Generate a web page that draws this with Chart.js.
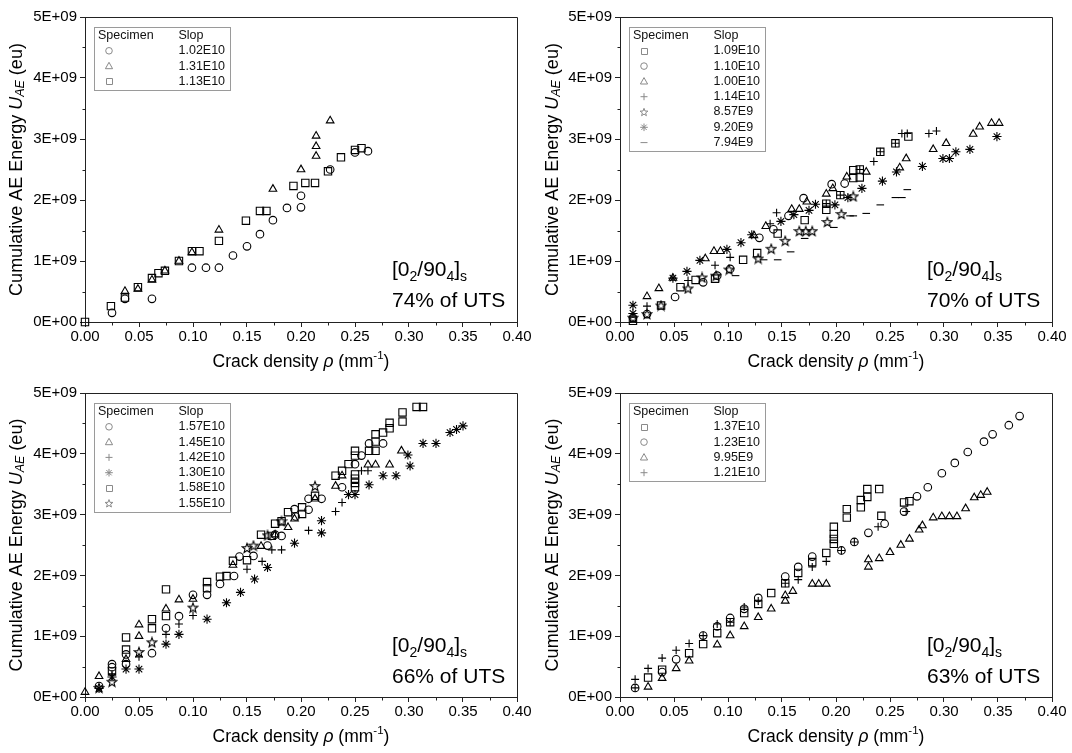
<!DOCTYPE html>
<html><head><meta charset="utf-8">
<script src="https://cdn.jsdelivr.net/npm/chart.js@4.4.1/dist/chart.umd.min.js"></script>
<style>
html,body{margin:0;padding:0;background:#fff;}
#wrap{position:relative;width:1072px;height:753px;overflow:hidden;}
.cell{position:absolute;}
canvas{display:block;}
</style></head><body>
<div id="wrap">
<div class="cell" style="left:0;top:0"><canvas id="c1" width="536" height="376"></canvas></div>
<div class="cell" style="left:536px;top:0"><canvas id="c2" width="536" height="376"></canvas></div>
<div class="cell" style="left:0;top:376px"><canvas id="c3" width="536" height="377"></canvas></div>
<div class="cell" style="left:536px;top:376px"><canvas id="c4" width="536" height="377"></canvas></div>
</div>
<script>
// ---------- DATA (x = crack density mm^-1, y = cumulative AE energy in units of 1E9 eu) ----------
const xTickValues = [0,0.05,0.10,0.15,0.20,0.25,0.30,0.35,0.40];
const yTickLabels = ['0E+00','1E+09','2E+09','3E+09','4E+09','5E+09'];

// Panel 1 : 74% of UTS
const p1Circle = [[0.025,0.15],[0.037,0.38],[0.062,0.38],[0.099,0.89],[0.112,0.89],[0.124,0.89],[0.137,1.09],[0.150,1.24],[0.162,1.44],[0.174,1.67],[0.187,1.87],[0.200,1.88],[0.200,2.07],[0.227,2.50],[0.250,2.78],[0.262,2.80]];
const p1Triangle = [[0.037,0.505],[0.049,0.54],[0.062,0.69],[0.074,0.84],[0.087,1.00],[0.099,1.14],[0.124,1.51],[0.174,2.18],[0.200,2.50],[0.214,2.72],[0.214,2.88],[0.214,3.05],[0.227,3.30]];
const p1Square = [[0.000,0.00],[0.024,0.26],[0.037,0.40],[0.049,0.57],[0.062,0.72],[0.068,0.80],[0.074,0.84],[0.087,1.00],[0.099,1.16],[0.106,1.16],[0.124,1.33],[0.149,1.66],[0.162,1.82],[0.168,1.82],[0.193,2.23],[0.204,2.28],[0.213,2.28],[0.225,2.47],[0.237,2.70],[0.250,2.82],[0.256,2.85]];
const p1Slopes = ['1.02E10','1.31E10','1.13E10'];

// Panel 2 : 70% of UTS
const p2Square = [[0.012,0.02],[0.038,0.27],[0.056,0.57],[0.070,0.69],[0.088,0.71],[0.114,1.02],[0.127,1.13],[0.146,1.45],[0.171,1.67],[0.191,1.94],[0.191,1.84],[0.204,2.08],[0.216,2.49],[0.216,2.36],[0.222,2.50],[0.222,2.37],[0.241,2.79],[0.255,2.93],[0.267,3.04]];
const p2Circle = [[0.012,0.07],[0.025,0.13],[0.051,0.41],[0.077,0.65],[0.090,0.76],[0.102,0.87],[0.129,1.38],[0.142,1.52],[0.156,1.74],[0.170,2.03],[0.196,2.26],[0.208,2.27]];
const p2Triangle = [[0.025,0.42],[0.036,0.55],[0.049,0.72],[0.079,1.04],[0.087,1.16],[0.093,1.16],[0.124,1.42],[0.135,1.57],[0.159,1.85],[0.166,1.85],[0.173,1.97],[0.191,2.10],[0.197,2.19],[0.210,2.38],[0.228,2.46],[0.259,2.53],[0.265,2.68],[0.290,2.83],[0.302,2.93],[0.327,3.08],[0.333,3.20],[0.344,3.26],[0.351,3.26]];
const p2Plus = [[0.025,0.26],[0.063,0.68],[0.088,0.93],[0.102,1.06],[0.139,1.61],[0.145,1.79],[0.191,1.94],[0.204,2.08],[0.222,2.50],[0.235,2.63],[0.241,2.79],[0.255,2.93],[0.261,3.09],[0.266,3.09],[0.286,3.09],[0.293,3.13]];
const p2Star = [[0.012,0.07],[0.025,0.13],[0.038,0.27],[0.063,0.55],[0.076,0.73],[0.089,0.76],[0.101,0.86],[0.128,1.04],[0.140,1.20],[0.153,1.33],[0.166,1.49],[0.172,1.49],[0.178,1.49],[0.192,1.64],[0.205,1.77],[0.216,2.06]];
const p2Asterisk = [[0.012,0.275],[0.012,0.14],[0.049,0.72],[0.062,0.83],[0.074,1.01],[0.099,1.19],[0.112,1.30],[0.122,1.43],[0.149,1.65],[0.161,1.76],[0.175,1.83],[0.181,1.93],[0.199,1.92],[0.211,2.04],[0.224,2.19],[0.243,2.31],[0.256,2.46],[0.280,2.55],[0.299,2.68],[0.305,2.68],[0.311,2.79],[0.324,2.83],[0.349,3.04]];
const p2Dash = [[0.107,0.76],[0.133,1.02],[0.146,1.02],[0.158,1.15],[0.171,1.37],[0.198,1.55],[0.213,1.74],[0.216,1.74],[0.228,1.78],[0.241,1.92],[0.255,2.04],[0.261,2.04],[0.266,2.17]];
const p2Slopes = ['1.09E10','1.10E10','1.00E10','1.14E10','8.57E9','9.20E9','7.94E9'];

// Panel 3 : 66% of UTS
const p3Circle = [[0.013,0.18],[0.025,0.54],[0.025,0.49],[0.038,0.70],[0.038,0.54],[0.062,0.72],[0.075,1.13],[0.087,1.33],[0.100,1.68],[0.113,1.68],[0.125,1.86],[0.138,1.99],[0.143,2.31],[0.156,2.32],[0.169,2.49],[0.176,2.67],[0.182,2.65],[0.194,3.09],[0.195,2.97],[0.207,3.08],[0.207,3.26],[0.219,3.26],[0.238,3.45],[0.250,3.83],[0.256,3.97],[0.263,4.17],[0.276,4.17]];
const p3Triangle = [[0.000,0.08],[0.013,0.34],[0.038,0.62],[0.050,1.19],[0.050,1.00],[0.075,1.45],[0.087,1.60],[0.100,1.61],[0.137,2.17],[0.163,2.48],[0.176,2.67],[0.188,2.79],[0.194,2.93],[0.213,3.26],[0.232,3.47],[0.238,3.64],[0.262,3.82],[0.269,3.82],[0.282,3.82],[0.293,4.05]];
const p3Plus = [[0.025,0.38],[0.050,0.66],[0.075,1.03],[0.087,1.20],[0.100,1.34],[0.150,2.10],[0.164,2.23],[0.173,2.42],[0.182,2.42],[0.207,2.74],[0.232,3.05],[0.238,3.20],[0.256,3.72],[0.262,3.72]];
const p3Asterisk = [[0.013,0.14],[0.025,0.33],[0.038,0.46],[0.050,0.46],[0.075,0.87],[0.087,1.03],[0.113,1.28],[0.131,1.55],[0.144,1.72],[0.157,1.94],[0.169,2.13],[0.194,2.53],[0.219,2.90],[0.219,2.70],[0.244,3.33],[0.250,3.33],[0.263,3.49],[0.276,3.64],[0.288,3.64],[0.299,3.98],[0.301,3.80],[0.313,4.17],[0.325,4.17],[0.338,4.35],[0.344,4.40],[0.350,4.46]];
const p3Square = [[0.025,0.42],[0.038,0.98],[0.038,0.78],[0.062,1.28],[0.062,1.13],[0.075,1.77],[0.075,1.33],[0.113,1.89],[0.113,1.79],[0.125,1.98],[0.131,1.99],[0.137,2.24],[0.150,2.25],[0.163,2.67],[0.173,2.65],[0.176,2.85],[0.182,2.89],[0.188,3.04],[0.201,3.12],[0.201,3.01],[0.213,3.31],[0.232,3.64],[0.238,3.72],[0.244,3.83],[0.250,3.45],[0.250,3.52],[0.250,3.59],[0.250,3.66],[0.250,3.97],[0.250,4.05],[0.263,4.05],[0.269,4.05],[0.269,4.20],[0.269,4.32],[0.276,4.35],[0.282,4.42],[0.282,4.51],[0.294,4.53],[0.294,4.68],[0.307,4.77],[0.313,4.77]];
const p3Star = [[0.013,0.15],[0.025,0.25],[0.050,0.74],[0.062,0.90],[0.100,1.47],[0.150,2.45],[0.156,2.49],[0.169,2.66],[0.182,2.89],[0.213,3.47]];
const p3Slopes = ['1.57E10','1.45E10','1.42E10','1.30E10','1.58E10','1.55E10'];

// Panel 4 : 63% of UTS
const p4Square = [[0.026,0.32],[0.039,0.45],[0.064,0.72],[0.077,0.87],[0.090,1.05],[0.102,1.23],[0.115,1.38],[0.128,1.53],[0.140,1.71],[0.153,1.87],[0.165,2.04],[0.178,2.22],[0.191,2.37],[0.198,2.52],[0.198,2.60],[0.198,2.68],[0.198,2.80],[0.210,2.95],[0.210,3.09],[0.223,3.12],[0.223,3.24],[0.229,3.29],[0.229,3.42],[0.240,3.42],[0.242,2.98],[0.263,3.20],[0.268,3.22]];
const p4Circle = [[0.014,0.15],[0.039,0.41],[0.052,0.62],[0.077,1.01],[0.090,1.16],[0.102,1.30],[0.115,1.45],[0.128,1.63],[0.153,1.98],[0.165,2.14],[0.178,2.31],[0.205,2.41],[0.217,2.55],[0.230,2.70],[0.245,2.85],[0.263,3.05],[0.275,3.30],[0.285,3.45],[0.298,3.68],[0.310,3.85],[0.322,4.03],[0.337,4.20],[0.345,4.32],[0.360,4.47],[0.370,4.62]];
const p4Triangle = [[0.026,0.165],[0.039,0.31],[0.052,0.47],[0.064,0.595],[0.090,0.86],[0.102,1.01],[0.115,1.16],[0.128,1.31],[0.140,1.45],[0.153,1.58],[0.153,1.67],[0.160,1.74],[0.178,1.86],[0.184,1.86],[0.191,1.86],[0.230,2.14],[0.230,2.26],[0.240,2.28],[0.250,2.38],[0.260,2.50],[0.268,2.60],[0.277,2.75],[0.280,2.82],[0.290,2.95],[0.298,2.97],[0.305,2.97],[0.312,2.97],[0.320,3.10],[0.328,3.28],[0.334,3.32],[0.340,3.37]];
const p4Plus = [[0.014,0.15],[0.014,0.29],[0.026,0.47],[0.039,0.64],[0.052,0.77],[0.064,0.88],[0.077,1.01],[0.090,1.20],[0.102,1.23],[0.115,1.48],[0.128,1.58],[0.153,1.87],[0.165,1.93],[0.178,2.14],[0.191,2.23],[0.205,2.41],[0.217,2.55],[0.239,2.80],[0.265,3.05]];
const p4Slopes = ['1.37E10','1.23E10','9.95E9','1.21E10'];

const utsLabels = ['74% of UTS','70% of UTS','66% of UTS','63% of UTS'];

// ---------- RENDERING ----------
const FONT = '"Liberation Sans", Arial, Helvetica, sans-serif';
Chart.defaults.font.family = FONT;
Chart.defaults.color = '#000';
const INK = '#000';

function makeStarCanvas(){
  const c = document.createElement('canvas'); c.width = 12; c.height = 12;
  const g = c.getContext('2d'); g.strokeStyle = INK; g.lineWidth = 1.1;
  g.beginPath();
  for (let i = 0; i < 10; i++) {
    const r = i % 2 ? 2.1 : 5.0;
    const a = -Math.PI / 2 + i * Math.PI / 5;
    const px = 6 + r * Math.cos(a), py = 6.4 + r * Math.sin(a);
    if (i) g.lineTo(px, py); else g.moveTo(px, py);
  }
  g.closePath(); g.stroke();
  return c;
}
const starImg = makeStarCanvas();

const STYLES = {
  circle:   {pointStyle:'circle',   r:3.8},
  triangle: {pointStyle:'triangle', r:4.4},
  square:   {pointStyle:'rect',     r:5.2},
  plus:     {pointStyle:'cross',    r:4.0},
  star:     {pointStyle:starImg,    r:4.5},
  asterisk: {pointStyle:'star',     r:4.6},
  dash:     {pointStyle:'line',     r:3.8}
};

function drawLegendSymbol(ctx, kind, x, y){
  ctx.save();
  ctx.strokeStyle = '#8a8a8a'; ctx.lineWidth = 1;
  ctx.beginPath();
  if (kind === 'circle') { ctx.arc(x, y, 3.3, 0, Math.PI*2); }
  else if (kind === 'triangle') { ctx.moveTo(x, y-3.8); ctx.lineTo(x+3.6, y+2.6); ctx.lineTo(x-3.6, y+2.6); ctx.closePath(); }
  else if (kind === 'square') { ctx.rect(Math.round(x)-3+0.5, Math.round(y)-3+0.5, 6, 6); }
  else if (kind === 'plus') { ctx.moveTo(x-3.5, y); ctx.lineTo(x+3.5, y); ctx.moveTo(x, y-3.5); ctx.lineTo(x, y+3.5); }
  else if (kind === 'dash') { ctx.moveTo(x-3.5, y); ctx.lineTo(x+3.5, y); }
  else if (kind === 'asterisk') {
    for (let i = 0; i < 4; i++) { const a = i*Math.PI/4; ctx.moveTo(x-3.8*Math.cos(a), y-3.8*Math.sin(a)); ctx.lineTo(x+3.8*Math.cos(a), y+3.8*Math.sin(a)); }
  }
  else if (kind === 'star') {
    for (let i = 0; i < 10; i++) { const r = i%2 ? 1.7 : 4.1; const a = -Math.PI/2 + i*Math.PI/5; const px = x + r*Math.cos(a), py = y + 0.4 + r*Math.sin(a); if (i) ctx.lineTo(px, py); else ctx.moveTo(px, py); }
    ctx.closePath();
  }
  ctx.stroke();
  ctx.restore();
}

function drawRich(ctx, parts, x, y, align){
  let total = 0;
  parts.forEach(p => { ctx.font = p.font; p.w = ctx.measureText(p.t).width; total += p.w; });
  let cx = align === 'center' ? x - total/2 : x;
  parts.forEach(p => { ctx.font = p.font; ctx.fillText(p.t, cx, y + (p.dy || 0)); cx += p.w; });
}

const decoPlugin = {
  id: 'deco',
  afterDraw(chart){
    const o = chart.options.plugins.deco;
    const ctx = chart.ctx, a = chart.chartArea;
    const xs = chart.scales.x, ys = chart.scales.y;
    const L = Math.round(a.left) + 0.5, R = Math.round(a.right) + 0.5;
    const T = Math.round(a.top) + 0.5, B = Math.round(a.bottom) + 0.5;
    ctx.save();
    ctx.strokeStyle = '#222'; ctx.lineWidth = 1;
    ctx.beginPath();
    ctx.moveTo(L, T); ctx.lineTo(R, T); ctx.lineTo(R, B);
    // minor ticks
    for (let v = 0.025; v < 0.4; v += 0.05) {
      const px = Math.round(xs.getPixelForValue(v)) + 0.5;
      ctx.moveTo(px, B); ctx.lineTo(px, B + 3);
    }
    for (let v = 0.5e9; v < 5e9; v += 1e9) {
      const py = Math.round(ys.getPixelForValue(v)) + 0.5;
      ctx.moveTo(L, py); ctx.lineTo(L - 3, py);
    }
    ctx.stroke();

    // axis titles
    ctx.fillStyle = '#000';
    ctx.textBaseline = 'middle';
    const fN = '17.5px ' + FONT, fI = 'italic 17.5px ' + FONT, fSup = '11.5px ' + FONT;
    drawRich(ctx, [
      {t:'Crack density ', font:fN}, {t:'ρ', font:fI}, {t:' (mm', font:fN}, {t:'-1', font:fSup, dy:-6}, {t:')', font:fN}
    ], (a.left + a.right)/2, a.bottom + 40, 'center');
    const gN = '18px ' + FONT, gI = 'italic 18px ' + FONT, gS = 'italic 12.5px ' + FONT;
    ctx.save();
    ctx.translate(17, (a.top + a.bottom)/2);
    ctx.rotate(-Math.PI/2);
    drawRich(ctx, [
      {t:'Cumulative AE Energy ', font:gN}, {t:'U', font:gI}, {t:'AE', font:gS, dy:4}, {t:' (eu)', font:gN}
    ], 0, 0, 'center');
    ctx.restore();

    // annotation
    ctx.textBaseline = 'alphabetic';
    const fA = '21px ' + FONT, fAs = '14px ' + FONT;
    const ax = a.left + 307;
    drawRich(ctx, [
      {t:'[0', font:fA}, {t:'2', font:fAs, dy:5}, {t:'/90', font:fA}, {t:'4', font:fAs, dy:5}, {t:']', font:fA}, {t:'s', font:fAs, dy:5}
    ], ax, a.top + 259, 'left');
    ctx.font = fA;
    ctx.fillText(o.uts, ax, a.top + 290);

    // legend box
    const bx = a.left + 8.5, by = a.top + 9.5, bw = 136;
    const n = o.symbols.length, rowH = 15.3;
    const bh = Math.round(17 + rowH * n);
    ctx.fillStyle = '#fff';
    ctx.fillRect(bx, by, bw, bh);
    ctx.strokeStyle = '#9a9a9a';
    ctx.strokeRect(Math.round(bx)+0.5, Math.round(by)+0.5, bw, bh);
    ctx.fillStyle = '#111';
    ctx.font = '12.5px ' + FONT;
    ctx.textBaseline = 'middle';
    ctx.fillText('Specimen', bx + 4.5, by + 9);
    ctx.fillText('Slop', bx + 85, by + 9);
    for (let i = 0; i < n; i++) {
      const ry = by + 9 + rowH * (i + 1);
      drawLegendSymbol(ctx, o.symbols[i], bx + 15.5, ry);
      ctx.fillStyle = '#111';
      ctx.fillText(o.slopes[i], bx + 85, ry);
    }
    ctx.restore();
  }
};

function toPoints(arr){ return arr.map(p => ({x: p[0], y: p[1] * 1e9})); }

function makeChart(id, series, slopes, uts, layoutSpec){
  const canvas = document.getElementById(id);
  const datasets = series.map(s => {
    const st = STYLES[s.kind];
    return {
      data: toPoints(s.data),
      pointStyle: st.pointStyle,
      pointRadius: st.r,
      pointHoverRadius: st.r,
      pointBorderColor: INK,
      pointBackgroundColor: 'rgba(0,0,0,0)',
      pointBorderWidth: 1.1,
      showLine: false,
      clip: 8
    };
  });
  return new Chart(canvas, {
    type: 'scatter',
    data: { datasets },
    plugins: [decoPlugin],
    options: {
      responsive: false,
      animation: false,
      devicePixelRatio: 1,
      events: [],
      layout: { padding: { left: 0, top: layoutSpec.top, right: canvas.width - layoutSpec.right, bottom: 0 } },
      plugins: {
        legend: { display: false },
        tooltip: { enabled: false },
        deco: { symbols: series.map(s => s.kind), slopes, uts }
      },
      scales: {
        x: {
          type: 'linear', min: 0, max: 0.4,
          afterBuildTicks(scale){ scale.ticks = xTickValues.map(v => ({value: v})); },
          afterFit(scale){ scale.height = canvas.height - layoutSpec.bottom; },
          ticks: { callback: v => Number(v).toFixed(2), font: { size: 15 }, color: '#000', padding: 1, maxRotation: 0, autoSkip: false },
          grid: { drawOnChartArea: false, drawTicks: true, tickLength: 5, color: '#222' },
          border: { display: true, color: '#222', width: 1 }
        },
        y: {
          type: 'linear', min: 0, max: 5e9,
          afterBuildTicks(scale){ scale.ticks = yTickLabels.map((t, i) => ({value: i * 1e9})); },
          afterFit(scale){ scale.width = layoutSpec.left; },
          ticks: { callback: (v) => yTickLabels[Math.round(v / 1e9)], font: { size: 15 }, color: '#000', padding: 3, autoSkip: false },
          grid: { drawOnChartArea: false, drawTicks: true, tickLength: 5, color: '#222' },
          border: { display: true, color: '#222', width: 1 }
        }
      }
    }
  });
}

makeChart('c1', [
  {kind:'circle', data:p1Circle}, {kind:'triangle', data:p1Triangle}, {kind:'square', data:p1Square}
], p1Slopes, utsLabels[0], {left:85, right:517, top:17, bottom:322});

makeChart('c2', [
  {kind:'square', data:p2Square}, {kind:'circle', data:p2Circle}, {kind:'triangle', data:p2Triangle},
  {kind:'plus', data:p2Plus}, {kind:'star', data:p2Star}, {kind:'asterisk', data:p2Asterisk}, {kind:'dash', data:p2Dash}
], p2Slopes, utsLabels[1], {left:84, right:516, top:17, bottom:322});

makeChart('c3', [
  {kind:'circle', data:p3Circle}, {kind:'triangle', data:p3Triangle}, {kind:'plus', data:p3Plus},
  {kind:'asterisk', data:p3Asterisk}, {kind:'square', data:p3Square}, {kind:'star', data:p3Star}
], p3Slopes, utsLabels[2], {left:85, right:517, top:17, bottom:321});

makeChart('c4', [
  {kind:'square', data:p4Square}, {kind:'circle', data:p4Circle}, {kind:'triangle', data:p4Triangle}, {kind:'plus', data:p4Plus}
], p4Slopes, utsLabels[3], {left:84, right:516, top:17, bottom:321});
</script>
</body></html>
